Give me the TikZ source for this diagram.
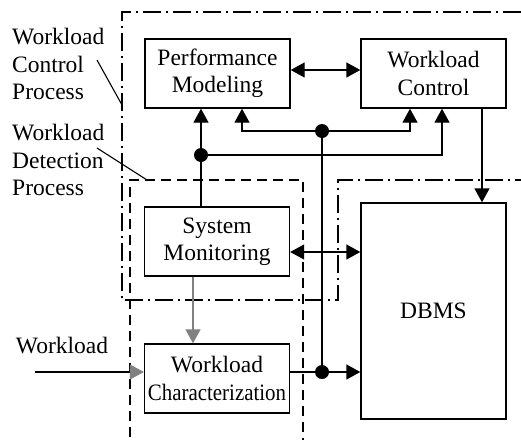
\documentclass[tikz,border=0pt]{standalone}
\usepackage{fontspec}
\setmainfont{Liberation Serif}
\usetikzlibrary{arrows.meta, calc}

\begin{document}
\begin{tikzpicture}[x=1pt, y=-1pt,
  every node/.style = {font=\fontsize{23.5}{27.5}\selectfont},
  box/.style     = {draw, line width=1.4pt, minimum width=145pt,
                    minimum height=69pt, inner sep=0pt, align=center},
  arr/.style     = {-{Triangle[length=14pt, width=15pt]}, line width=1.4pt},
  dbl/.style     = {{Triangle[length=14pt, width=15pt]}-{Triangle[length=14pt, width=15pt]},
                    line width=1.4pt},
  feed/.style    = {-{Triangle[length=14pt, width=15pt]}, line width=1.4pt, gray},
  lbl/.style     = {inner sep=0pt, align=left},
  ctlarea/.style = {line width=1.4pt, dash pattern=on 18pt off 5pt on 2pt off 5pt},
  detarea/.style = {line width=1.4pt, dash pattern=on 10pt off 6pt},
  lead/.style    = {line width=1.1pt},
]
\useasboundingbox (0,0) rectangle (521,442);

% process regions
\draw[ctlarea] (521,12) -- (122,12) -- (122,300) -- (338,300) -- (338,180) -- (521,180);
\draw[detarea] (130,437) -- (130,180) -- (303,180) -- (303,440);

% components
\node[box] (perf)  at (217.5,73.5) {Performance\\Modeling};
\node[box] (wctl)  at (433.5,73.5) {Workload\\Control};
\node[box] (smon)  at (217,241.5)  {System\\Monitoring};
\node[box] (wchar) at (217,378.5)  {Workload\\\scalebox{0.89}[1]{Characterization}};
\node[box, minimum height=216pt] (dbms) at (433.5,311) {DBMS};

% process labels
\node[lbl, anchor=west] (ctllbl) at (12,64)  {Workload\\Control\\Process};
\node[lbl, anchor=west] (detlbl) at (12,160) {Workload\\Detection\\Process};
\node[lbl] (wlbl) at (62,346) {Workload};

\coordinate (ctlfrom) at (97,60);
\coordinate (ctlto)   at (122,105);
\coordinate (detfrom) at (97,148);
\coordinate (detto)   at (147,180);
\draw[lead] (ctlfrom) -- (ctlto);
\draw[lead] (detfrom) -- (detto);

% junctions
\coordinate (jmon) at (201,155);
\coordinate (jtop) at (322,131);
\coordinate (jbot) at (322,372);
\coordinate (wlin) at (35,372);

\draw[dbl] ([yshift=3.5]perf.east) -- ([yshift=3.5]wctl.west);
\draw[arr] (smon.north -| jmon) -- (perf.south -| jmon);
\draw[arr] (jmon) -| ([xshift=8.5]wctl.south);
\draw[dbl] ([xshift=24.5]perf.south) |- (jtop) -| ([xshift=-23.5]wctl.south);
\draw[line width=1.4pt] (jtop) -- (jbot);
\draw[arr] (wchar.east |- jbot) -- (dbms.west |- jbot);
\draw[dbl] ([yshift=-10.5]smon.east) -- ([yshift=-10.5]smon.east -| dbms.west);
\draw[arr] ([xshift=48.5]wctl.south) -- ([xshift=48.5]wctl.south |- dbms.north);
\draw[feed] ([xshift=-24]smon.south) -- ([xshift=-24]smon.south |- wchar.north);
\draw[line width=1.4pt, -{Triangle[length=14pt, width=15pt, color=gray]}]
  (wlin) -- (wchar.west |- wlin);

\fill (jmon) circle (7);
\fill (jtop) circle (7);
\fill (jbot) circle (7);

\end{tikzpicture}
\end{document}
